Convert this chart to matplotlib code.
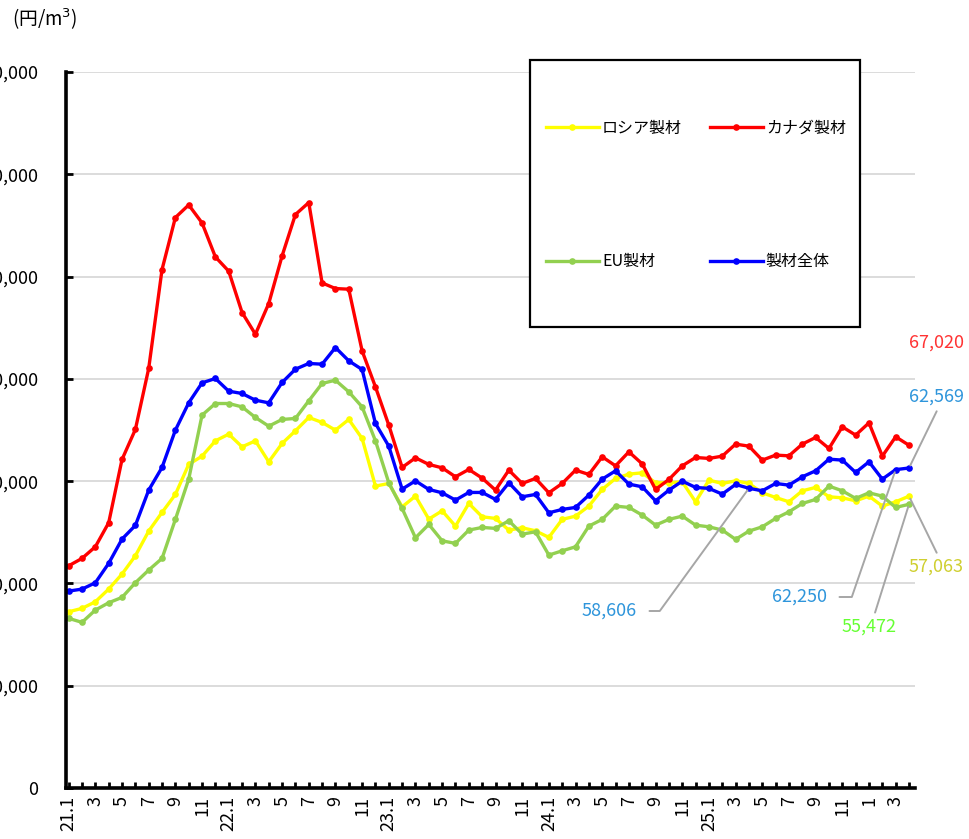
import matplotlib
matplotlib.use("Agg")
import matplotlib.pyplot as plt
from matplotlib.patches import Rectangle

plt.rcParams['font.family'] = ['Noto Sans CJK JP', 'DejaVu Sans']
plt.rcParams['mathtext.fontset'] = 'dejavusans'

# ---- data (円/m3), monthly 2021.1 - 2026.4 ----
russia = [34460, 35120, 36410, 38890, 41830, 45400, 50230, 53880, 57400, 63270,
          64890, 67880, 69190, 66710, 67880, 63780, 67370, 69840, 72450, 71480,
          69970, 72060, 68350, 59030, 59550, 54980, 57070, 52580, 54200, 51210,
          55640, 53030, 52710, 50430, 50880, 50290, 49000, 52520, 53160, 55120,
          58380, 60530, 61370, 61630, 59680, 59680, 59870, 55960, 60200, 59550,
          60060, 59550, 57720, 56810, 55960, 58110, 58770, 56940, 56740, 56150,
          57070, 55120, 55960, 57063]
canada = [43450, 44890, 47170, 51860, 64240, 70100, 82030, 101380, 111540, 114010,
          110490, 103840, 101050, 92970, 88730, 94730, 104040, 112130, 114470, 98760,
          97660, 97530, 85470, 78430, 70950, 62680, 64560, 63270, 62600, 60850,
          62290, 60590, 58240, 62150, 59550, 60530, 57720, 59550, 62150, 61310,
          64760, 62990, 65730, 63370, 58380, 60330, 62990, 64630, 64440, 64890,
          67240, 66840, 64110, 65090, 64950, 67240, 68540, 66390, 70620, 69000,
          71400, 64890, 68670, 67020]
eu = [33170, 32390, 34790, 36220, 37270, 40130, 42610, 44890, 52520, 60390,
      72900, 75180, 75180, 74520, 72450, 70750, 72060, 72260, 75700, 79100,
      79740, 77460, 74520, 67880, 59680, 54670, 48920, 51540, 48330, 47830,
      50430, 50950, 50760, 52260, 49640, 50100, 45540, 46380, 47160, 51210,
      52520, 55120, 54860, 53360, 51400, 52520, 53160, 51400, 51070, 50430,
      48610, 50230, 51070, 52710, 54000, 55640, 56420, 59030, 58110, 56620,
      57720, 57070, 54860, 55472]
total = [38500, 38890, 40130, 43920, 48670, 51340, 58240, 62680, 69970, 75310,
         79220, 80070, 77590, 77140, 75830, 75310, 79290, 81890, 83010, 82870,
         86130, 83520, 81830, 71280, 66840, 58440, 60060, 58380, 57720, 56290,
         57790, 57790, 56420, 59680, 56940, 57400, 53810, 54470, 54860, 57270,
         60390, 62020, 59420, 58890, 56150, 58240, 60000, 58770, 58580, 57460,
         59360, 58606, 58110, 59550, 59220, 60850, 62020, 64300, 64110, 61700,
         63780, 60390, 62250, 62569]

odd_month_labels = ["21.1", "3", "5", "7", "9", "11",
                    "22.1", "3", "5", "7", "9", "11",
                    "23.1", "3", "5", "7", "9", "11",
                    "24.1", "3", "5", "7", "9", "11",
                    "25.1", "3", "5", "7", "9", "11",
                    "1", "3"]
series_names = ["ロシア製材", "カナダ製材", "EU製材", "製材全体"]
series_colors = ["#FFFF00", "#FF0000", "#92D050", "#0000FF"]
y_ticks = [0, 20000, 40000, 60000, 80000, 100000, 120000, 140000]

W, H = 970, 839
fig = plt.figure(figsize=(W / 100, H / 100), dpi=100)
ax = fig.add_axes([66 / W, 1 - 788 / H, (915 - 66) / W, (788 - 72) / H])

x = list(range(len(total)))
lines = {}
for name, col, vals in zip(series_names, series_colors, [russia, canada, eu, total]):
    ln, = ax.plot(x, vals, color=col, lw=2.4, marker='o', ms=4.8,
                  markeredgewidth=0, label=name, zorder=3)
    lines[name] = ln

ax.set_xlim(-0.2, 63.45)
ax.set_ylim(0, 140000)
ax.set_yticks(y_ticks)
ax.set_yticklabels([f"{v:,}" for v in y_ticks])
ax.yaxis.grid(True, color='#D9D9D9', lw=1.3)
ax.set_axisbelow(True)
for s in ['top', 'right']:
    ax.spines[s].set_visible(False)
for s in ['left', 'bottom']:
    ax.spines[s].set_linewidth(2.6)
    ax.spines[s].set_zorder(4)

ax.tick_params(axis='y', direction='in', length=5, width=2, pad=20,
               labelsize=13, colors='black')
ax.set_xticks(x)
xl = []
for i in x:
    xl.append(odd_month_labels[i // 2] if i % 2 == 0 else "")
ax.set_xticklabels(xl, rotation=90)
ax.tick_params(axis='x', direction='in', length=4, width=2, pad=6, labelsize=13)

# unit label
fig.text(12 / W, 1 - 19 / H, "(円/m$^3$)", fontsize=13.5, va='center', ha='left')

# legend box
rect = Rectangle((530 / W, 1 - 327 / H), 330 / W, 267 / H, transform=fig.transFigure,
                 facecolor='white', edgecolor='black', lw=1.6, zorder=4, clip_on=False)
ax.add_patch(rect)
handles = [lines["ロシア製材"], lines["EU製材"], lines["カナダ製材"], lines["製材全体"]]
leg = ax.legend(handles=handles, ncol=2, loc='center',
                bbox_to_anchor=(696 / W, 1 - 195 / H), bbox_transform=fig.transFigure,
                frameon=False, fontsize=11.5, labelspacing=7.3, handlelength=3.3,
                handletextpad=0.2, columnspacing=1.75, borderpad=0)
leg.set_zorder(6)

# value labels
gray = '#A6A6A6'
fig.text(909 / W, 1 - 343 / H, "67,020", color='#FF3333', fontsize=13, va='center', ha='left')

def note(txt, idx, vals, tx, ty, col, ha, relpos, conn="arc3", shrinkA=2):
    ax.annotate(txt, xy=(idx, vals[idx]), xycoords='data',
                xytext=(tx, H - ty), textcoords='figure pixels',
                color=col, fontsize=13, ha=ha, va='center', annotation_clip=False,
                arrowprops=dict(arrowstyle='-', color=gray, lw=1.4, relpos=relpos,
                                shrinkA=shrinkA, shrinkB=2, connectionstyle=conn))

note("62,569", 63, total, 909, 397, '#2E95DB', 'left', (0.55, 0.0))
note("57,063", 63, russia, 909, 567, '#CFCF30', 'left', (0.55, 1.0))
note("55,472", 63, eu, 842, 627, '#66FF33', 'left', (0.57, 1.0))
note("62,250", 62, total, 827, 597, '#2E95DB', 'right', (1.0, 0.5),
     conn="angle,angleA=0,angleB=71,rad=0", shrinkA=7)
note("58,606", 51, total, 637, 611, '#2E95DB', 'right', (1.0, 0.5),
     conn="angle,angleA=0,angleB=54,rad=0", shrinkA=7)

fig.savefig("out.png", dpi=100)
